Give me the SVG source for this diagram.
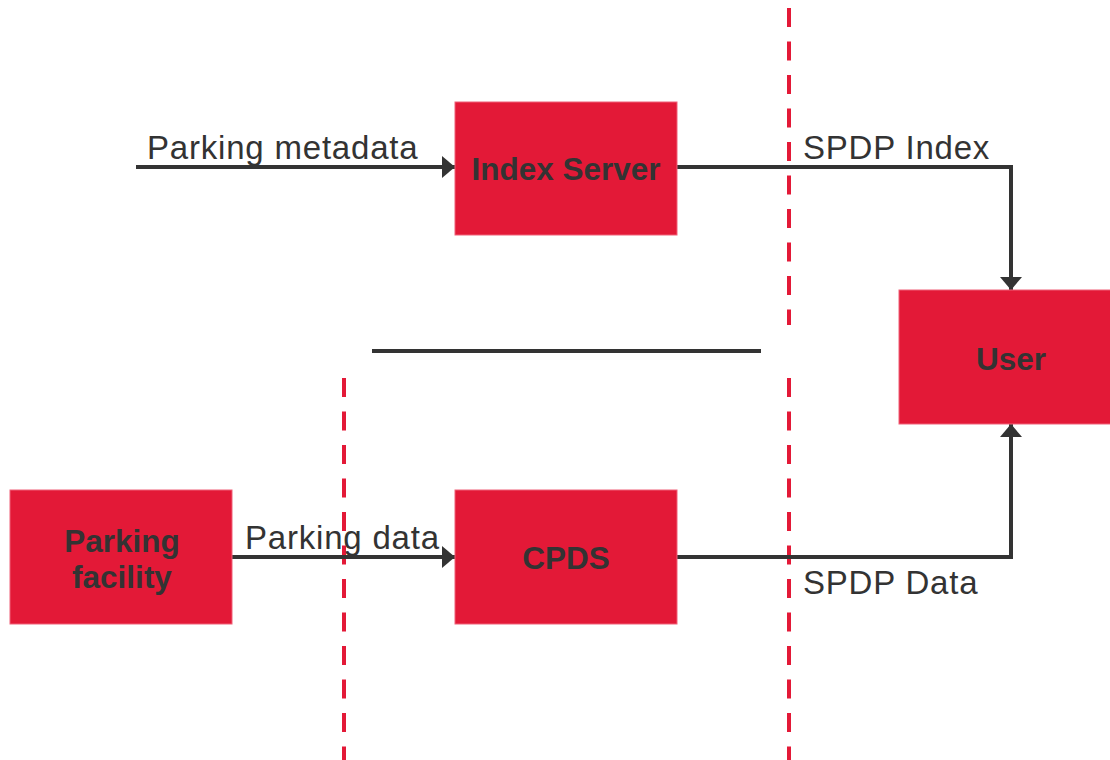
<svg xmlns="http://www.w3.org/2000/svg" width="1110" height="760" viewBox="0 0 1110 760">
<style>
.box{fill:#E31937;stroke:#F06078;stroke-width:1}
.lbl{font-family:"Liberation Sans",Arial,sans-serif;font-weight:bold;font-size:31.5px;fill:#333;text-anchor:middle}
.txt{font-family:"Liberation Sans",Arial,sans-serif;font-size:33px;letter-spacing:0.8px;fill:#333}
.con{fill:none;stroke:#333;stroke-width:4}
.dash{stroke:#E31937;stroke-width:4;stroke-dasharray:19 14.5}
</style>
<defs>
<marker id="ah" viewBox="0 0 13 22" refX="13" refY="11" markerWidth="13" markerHeight="22" markerUnits="userSpaceOnUse" orient="auto">
<path d="M0,0 L13,11 L0,22 z" fill="#333"/>
</marker>
</defs>
<g id="boundaries">
<line class="dash" x1="789" y1="8" x2="789" y2="325"/>
<line class="dash" x1="789" y1="378" x2="789" y2="760"/>
<line class="dash" x1="344" y1="378" x2="344" y2="760"/>
<line x1="372" y1="351" x2="761" y2="351" stroke="#333" stroke-width="4"/>
</g>
<g id="connectors">
<line class="con" x1="136" y1="167" x2="455" y2="167" marker-end="url(#ah)"/>
<polyline class="con" points="677,167 1011,167 1011,290" marker-end="url(#ah)"/>
<line class="con" x1="232" y1="557" x2="455" y2="557" marker-end="url(#ah)"/>
<polyline class="con" points="677,557 1011,557 1011,424" marker-end="url(#ah)"/>
<text class="txt" x="147" y="159">Parking metadata</text>
<text class="txt" x="803" y="159">SPDP Index</text>
<text class="txt" x="245" y="549">Parking data</text>
<text class="txt" x="803" y="594">SPDP Data</text>
</g>
<g id="index-server">
<rect class="box" x="455" y="102" width="222" height="133"/>
<text class="lbl" x="566" y="180">Index Server</text>
</g>
<g id="user">
<rect class="box" x="899" y="290" width="212" height="134"/>
<text class="lbl" x="1011" y="370">User</text>
</g>
<g id="parking-facility">
<rect class="box" x="10" y="490" width="222" height="134"/>
<text class="lbl" x="122" y="552">Parking</text>
<text class="lbl" x="122" y="588">facility</text>
</g>
<g id="cpds">
<rect class="box" x="455" y="490" width="222" height="134"/>
<text class="lbl" x="566" y="569">CPDS</text>
</g>
</svg>
